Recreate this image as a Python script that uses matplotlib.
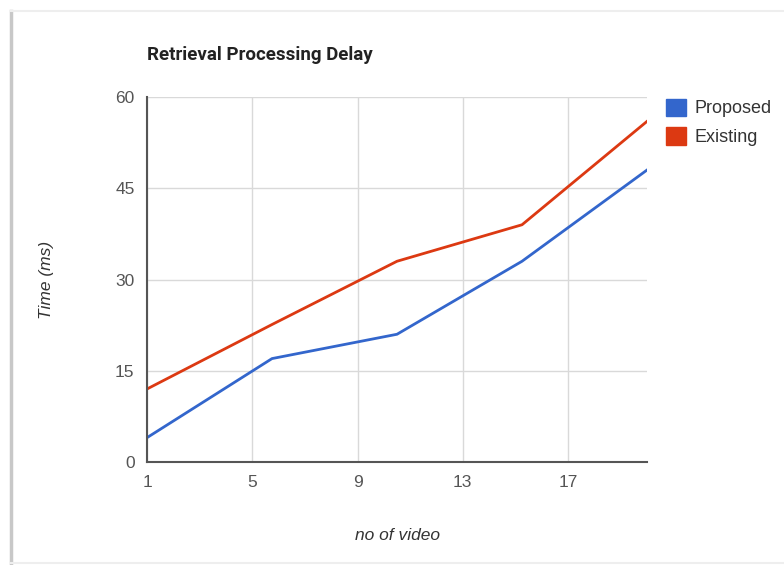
import matplotlib.pyplot as plt
from matplotlib.lines import Line2D

# Dados do grafico
videos = [1, 5.75, 10.5, 15.25, 20]
proposed = [4, 17, 21, 33, 48]
existing = [12, 22.6, 33, 39, 56]
x_ticks = [1, 5, 9, 13, 17]
y_ticks = [0, 15, 30, 45, 60]
series_names = ['Proposed', 'Existing']
colors = ['#3366cc', '#dc3912']

plt.rcParams['font.family'] = ['Liberation Sans', 'DejaVu Sans']

fig = plt.figure(figsize=(7.84, 5.65), dpi=100)
ax = fig.add_axes([0.1875, 0.1823, 0.6378, 0.646])

ax.plot(videos, proposed, color=colors[0], lw=2)
ax.plot(videos, existing, color=colors[1], lw=2)

ax.set_xlim(1, 20)
ax.set_ylim(0, 60)
ax.set_xticks(x_ticks)
ax.set_yticks(y_ticks)
ax.grid(True, color='#d9d9d9', lw=1)
ax.set_axisbelow(True)
ax.tick_params(length=0, labelsize=12.5, colors='#555555', pad=9)

for side in ['top', 'right']:
    ax.spines[side].set_visible(False)
for side in ['left', 'bottom']:
    ax.spines[side].set_color('#555555')
    ax.spines[side].set_linewidth(1.5)

ax.set_xlabel('no of video', fontsize=12.5, style='italic', color='#333333',
              labelpad=28)
ax.set_ylabel('Time (ms)', fontsize=12.5, style='italic', color='#333333',
              labelpad=44)

fig.text(0.1875, 0.902, 'Retrieval Processing Delay', fontsize=13.5,
         fontweight='bold', color='#222222', va='center', family='Roboto')

# Legenda com quadrados
handles = [plt.Rectangle((0, 0), 1, 1, color=c) for c in colors]
ax.legend(handles, series_names, loc='upper left',
          bbox_to_anchor=(1.005, 1.04), frameon=False, fontsize=13,
          handlelength=1.1, handleheight=1.1, labelcolor='#333333',
          handletextpad=0.5, labelspacing=0.55)

# Moldura da captura
fig.add_artist(Line2D([0.014, 0.014], [0, 0.981], color='#c8c8c8', lw=2.5))
fig.add_artist(Line2D([0.014, 1], [0.981, 0.981], color='#eeeeee', lw=1.5))
fig.add_artist(Line2D([0.014, 1], [0.003, 0.003], color='#eeeeee', lw=1.5))

fig.savefig('out.png', dpi=100)
